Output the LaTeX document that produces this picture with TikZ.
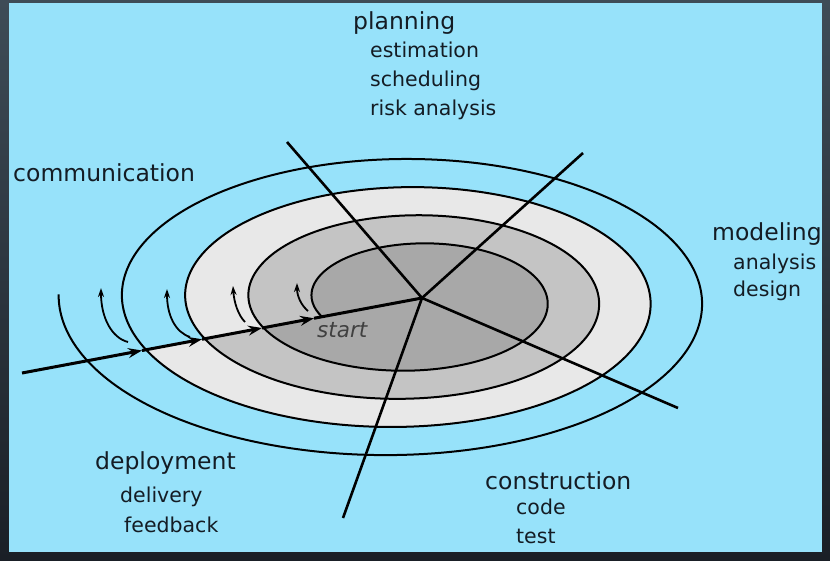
\documentclass[tikz,border=0pt]{standalone}
\usepackage{fontspec}
\setmainfont{DejaVu Sans}
\usetikzlibrary{positioning, calc, arrows.meta}
\tikzset{>={Stealth[length=14pt, width=10pt, inset=5pt]}}
\definecolor{skyblue}{RGB}{151,226,250}
\definecolor{frametop}{RGB}{62,76,87}
\definecolor{framebot}{RGB}{26,31,38}
\definecolor{ink}{RGB}{20,28,36}
\colorlet{ringlight}{black!9}
\colorlet{ringmid}{black!23}
\colorlet{ringdark}{black!34}
\tikzset{
  phase/.style={font=\fontsize{23.5}{28}\selectfont, text=ink, inner sep=0, anchor=base west},
  task/.style={font=\fontsize{20.5}{24}\selectfont, text=ink, inner sep=0, anchor=base west},
  spoke/.style={line width=2.6pt},
  ring/.style={line width=2pt},
  curl/.style={line width=1.8pt, -{Stealth[length=9pt, width=6pt]}},
}

\begin{document}
\begin{tikzpicture}[x=1pt, y=-1pt,
  declare function={
    sx(\t) = 396.2 - 0.016389*\t + (305.8 + 0.15944*\t)*cos(\t);
    sy(\t) = 300 + (148 + 0.078194*\t)*sin(\t);
  }]
  \useasboundingbox (0,0) rectangle (830,560);
  \shade[top color=frametop, bottom color=framebot] (0,0) rectangle (830,560);
  \fill[skyblue] (9,3) rectangle (822,552);

  % shaded turns of the spiral
  \fill[ringlight] plot[domain=-562:-202, samples=160, smooth] ({sx(\x)},{sy(\x)}) -- cycle;
  \fill[ringmid] plot[domain=-922:-562, samples=160, smooth] ({sx(\x)},{sy(\x)}) -- cycle;
  \fill[ringdark] plot[domain=-1281:-922, samples=160, smooth] ({sx(\x)},{sy(\x)}) -- cycle;
  \draw[ring] plot[domain=-1281:182, samples=600, smooth] ({sx(\x)},{sy(\x)});

  \coordinate (hub) at (422,298);
  \coordinate (planEnd) at (287,142);
  \coordinate (modelEnd) at (583,153);
  \coordinate (constrEnd) at (678,408);
  \coordinate (deployEnd) at (343,518);
  \coordinate (commEnd) at (22,373);

  \draw[spoke] (hub) -- (planEnd);
  \draw[spoke] (hub) -- (modelEnd);
  \draw[spoke] (hub) -- (constrEnd);
  \draw[spoke] (hub) -- (deployEnd);

  % path in from the outside
  \coordinate (x1) at ($(commEnd)!0.30!(hub)$);
  \coordinate (x2) at ($(commEnd)!0.45!(hub)$);
  \coordinate (x3) at ($(commEnd)!0.60!(hub)$);
  \coordinate (x4) at ($(commEnd)!0.73!(hub)$);
  \draw[spoke, line width=3pt, ->] (commEnd) -- (x1);
  \draw[spoke, line width=3pt, ->] (x1) -- (x2);
  \draw[spoke, line width=3pt, ->] (x2) -- (x3);
  \draw[spoke, line width=3pt, ->] (x3) -- (x4);
  \draw[spoke, line width=3pt] (x4) -- (hub);

  \coordinate (curl1a) at (128,342);
  \coordinate (curl1b) at (101,288);
  \coordinate (curl2a) at (190,337);
  \coordinate (curl2b) at (167,289);
  \coordinate (curl3a) at (245,322);
  \coordinate (curl3b) at (233,286);
  \coordinate (curl4a) at (308,311);
  \coordinate (curl4b) at (297,283);
  \draw[curl] (curl1a) .. controls (112,338) and (101,318) .. (curl1b);
  \draw[curl] (curl2a) .. controls (175,332) and (167,315) .. (curl2b);
  \draw[curl] (curl3a) .. controls (238,315) and (234,302) .. (curl3b);
  \draw[curl] (curl4a) .. controls (301,305) and (297,296) .. (curl4b);

  \node[phase] (plan) at (353,29) {planning};
  \node[task] (est) at (370,57) {estimation};
  \node[task] (sched) at (370,86) {scheduling};
  \node[task] (risk) at (370,115) {risk analysis};
  \node[phase] (comm) at (13,181) {communication};
  \node[phase] (model) at (712,240) {modeling};
  \node[task] (anal) at (733,269) {analysis};
  \node[task] (design) at (733,296) {design};
  \node[phase] (deploy) at (95,469) {deployment};
  \node[task] (deliv) at (120,502) {delivery};
  \node[task] (feed) at (124,532) {feedback};
  \node[phase] (constr) at (485,489) {construction};
  \node[task] (code) at (516,514) {code};
  \node[task] (test) at (516,543) {test};
  \node[font=\fontsize{21.5}{24}\selectfont\itshape, text=black!75, inner sep=0, anchor=base west] (start) at (317,337) {start};
\end{tikzpicture}
\end{document}
